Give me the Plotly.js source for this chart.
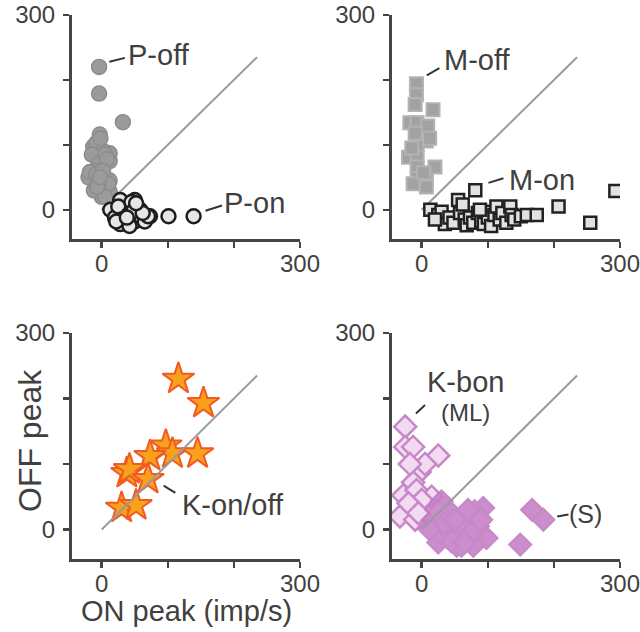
<!DOCTYPE html>
<html>
<head>
<meta charset="utf-8">
<script src="https://cdn.plot.ly/plotly-3.0.1.min.js"></script>
<style>html,body{margin:0;padding:0;background:#fff;}#chart{width:640px;height:632px;}</style>
</head>
<body>
<div id="chart"></div>
<script>
// ---- data (imp/s) ----
const unityLine = [0, 235];

const pOffX = [-4, -4, 32, -3, -13, 12, -2, 12, -20, 12, -3, 12, 0, -8, 3, -15, -5, 5, 8, -10, -18, -8, 2, 10, -5, -12, 5, -7, -3, -2];
const pOffY = [220, 179, 135, 116, 97, 87, 75, 75, 50, 45, 33, 28, 20, 103, 90, 85, 70, 85, 78, 60, 58, 55, 60, 40, 40, 30, 20, 35, 50, 110];

const pOnX = [13, 28, 50, 58, 35, 73, 35, 50, 20, 25, 30, 40, 45, 55, 60, 65, 70, 28, 42, 48, 62, 22, 38, 101, 139, 52];
const pOnY = [0, 15, 15, 0, -8, -10, -20, -18, -12, 5, -15, -8, 12, -5, -12, -18, -10, -22, -25, -2, -5, -18, -12, -10, -10, 10];

const mOffX = [-8, -8, -10, 17, -18, -7, 9, 7, -7, -20, -7, -7, 20, -7, 7, -13, 7, -10, 12, -15, 3];
const mOffY = [194, 177, 162, 154, 134, 134, 129, 106, 100, 81, 81, 66, 66, 48, 45, 40, 35, 118, 110, 95, 57];

const mOnX = [13, 25, 30, 35, 42, 48, 55, 58, 62, 65, 68, 73, 78, 81, 85, 90, 94, 97, 100, 105, 110, 113, 118, 122, 128, 134, 136, 140, 150, 159, 174, 207, 255, 293, 20, 88];
const mOnY = [0, -8, -3, -22, -12, -20, 15, -5, 8, -15, -24, -12, -20, 30, -5, -18, -22, -3, -12, -25, -8, 5, -15, -5, -20, 5, -8, -15, -10, -8, -8, 5, -20, 29, -15, 0];

const kOnOffX = [116, 154, 97, 107, 73, 145, 38, 42, 70, 30, 52];
const kOnOffY = [230, 193, 128, 116, 112, 116, 86, 92, 77, 33, 37];

const kBonMLX = [-25, -25, -13, 25, -3, -13, -28, -8, 15, -13, -33, -10, 0, -20, -5, 5, -18];
const kBonMLY = [157, 126, 126, 113, 88, 72, 52, 60, 50, 33, 20, 15, 45, 40, 25, 100, 100];

const kBonSX = [167, 184, 149, 93, 98, 80, 53, 40, 53, 78, 68, 45, 17, 30, 12, 38, 25, 63, 85, 60, 70, 35, 22, 75, 50, 90, 45, 65];
const kBonSY = [30, 15, -23, 33, -13, 28, 0, -5, -25, -25, -12, 25, 15, 43, 0, -12, -20, 8, 5, -25, 30, 10, 30, -5, 15, 15, -18, -20];

const tickVals = [0, 100, 200, 300];
const tickText = ['0', '', '', '300'];

// ---- styling ----
const FONT = 'Liberation Sans, Arial, Helvetica, sans-serif';
const TXT = '#404040';

function pts(x, y, xa, ya, marker, opacity) {
  return {type: 'scatter', mode: 'markers', x: x, y: y, xaxis: xa, yaxis: ya,
          marker: marker, opacity: opacity || 1, hoverinfo: 'skip', showlegend: false};
}
function unity(xa, ya) {
  return {type: 'scatter', mode: 'lines', x: unityLine, y: unityLine, xaxis: xa, yaxis: ya,
          line: {color: '#9a9a9a', width: 2}, hoverinfo: 'skip', showlegend: false};
}

const traces = [
  pts(pOffX, pOffY, 'x', 'y', {symbol: 'circle', size: 15, color: '#9b9b9b', line: {color: '#8c8c8c', width: 1.5}}),
  unity('x', 'y'),
  pts(pOnX, pOnY, 'x', 'y', {symbol: 'circle', size: 14, color: '#e6e6e6', line: {color: '#1e1e1e', width: 2.5}}),

  pts(mOffX, mOffY, 'x2', 'y2', {symbol: 'square', size: 13, color: '#a2a2a2', line: {color: '#b3b3b3', width: 2}}),
  unity('x2', 'y2'),
  pts(mOnX, mOnY, 'x2', 'y2', {symbol: 'square', size: 12, color: '#e2e2e2', line: {color: '#222', width: 2.5}}),

  pts(kOnOffX, kOnOffY, 'x3', 'y3', {symbol: 'star', size: 24, color: '#f9a11b', line: {color: '#f15a24', width: 2}}),
  unity('x3', 'y3'),

  pts(kBonMLX, kBonMLY, 'x4', 'y4', {symbol: 'diamond', size: 17, color: '#f2d6f2', line: {color: '#c27cc2', width: 2.5}}, 0.9),
  pts(kBonSX, kBonSY, 'x4', 'y4', {symbol: 'diamond', size: 17, color: '#c681c6', line: {color: '#c27cc2', width: 2}}, 0.9),
  unity('x4', 'y4')
];

function axis(domain, anchor, isX) {
  return {domain: domain, anchor: anchor, range: [-45, 300], showgrid: false, zeroline: false,
          showline: true, linecolor: '#454545', linewidth: 3, ticks: 'outside', ticklen: 6,
          tickwidth: 2.5, tickcolor: '#454545', tickvals: tickVals, ticktext: tickText,
          ticklabeloverflow: 'allow', ticklabelstandoff: isX ? -5 : 3,
          tickfont: {family: FONT, size: 24, color: TXT}, fixedrange: true};
}

const xL = [72 / 640, 300 / 640], xR = [392 / 640, 620 / 640];
const yT = [1 - 239 / 632, 1 - 15 / 632], yB = [1 - 559 / 632, 1 - 333 / 632];

function label(text, xref, yref, x, y, size) {
  return {text: text, xref: xref, yref: yref, x: x, y: y, xanchor: 'left', yanchor: 'middle',
          showarrow: false, font: {family: FONT, size: size || 29, color: TXT}};
}
function connector(xref, yref, x0, y0, x1, y1) {
  return {type: 'line', xref: xref, yref: yref, x0: x0, y0: y0, x1: x1, y1: y1,
          line: {color: '#333', width: 2}};
}

const layout = {
  width: 640, height: 632, margin: {l: 0, r: 0, t: 0, b: 0},
  paper_bgcolor: '#fff', plot_bgcolor: '#fff', showlegend: false,
  font: {family: FONT, color: TXT},
  xaxis: axis(xL, 'y', true), yaxis: axis(yT, 'x', false),
  xaxis2: axis(xR, 'y2', true), yaxis2: axis(yT, 'x2', false),
  xaxis3: axis(xL, 'y3', true), yaxis3: axis(yB, 'x3', false),
  xaxis4: axis(xR, 'y4', true), yaxis4: axis(yB, 'x4', false),
  annotations: [
    label('P-off', 'x', 'y', 36, 239),
    label('P-on', 'x', 'y', 182, 11),
    label('M-off', 'x2', 'y2', 30, 231),
    label('M-on', 'x2', 'y2', 129, 46),
    label('K-on/off', 'x3', 'y3', 119, 38),
    label('K-bon', 'x4', 'y4', 5, 225),
    label('(ML)', 'x4', 'y4', 26, 178, 24),
    label('(S)', 'x4', 'y4', 220, 23, 25),
    {text: 'OFF peak', xref: 'paper', yref: 'paper', x: 30 / 640, y: 1 - 441 / 632,
     textangle: -90, showarrow: false, xanchor: 'center', yanchor: 'middle',
     font: {family: FONT, size: 32, color: TXT}},
    {text: 'ON peak (imp/s)', xref: 'paper', yref: 'paper', x: 186 / 640, y: 1 - 611 / 632,
     showarrow: false, xanchor: 'center', yanchor: 'middle',
     font: {family: FONT, size: 29, color: TXT}}
  ],
  shapes: [
    connector('x', 'y', 11.5, 228, 35, 234),
    connector('x', 'y', 157, -1.5, 182, 6.5),
    connector('x2', 'y2', 7.6, 207, 26.7, 218),
    connector('x2', 'y2', 101, 41.5, 123.6, 48.6),
    connector('x3', 'y3', 93.6, 66.9, 111.4, 55.8),
    connector('x4', 'y4', -8.7, 177, 5, 190),
    connector('x4', 'y4', 205, 20, 222, 23)
  ]
};

Plotly.newPlot('chart', traces, layout, {displayModeBar: false, staticPlot: true});
</script>
</body>
</html>
